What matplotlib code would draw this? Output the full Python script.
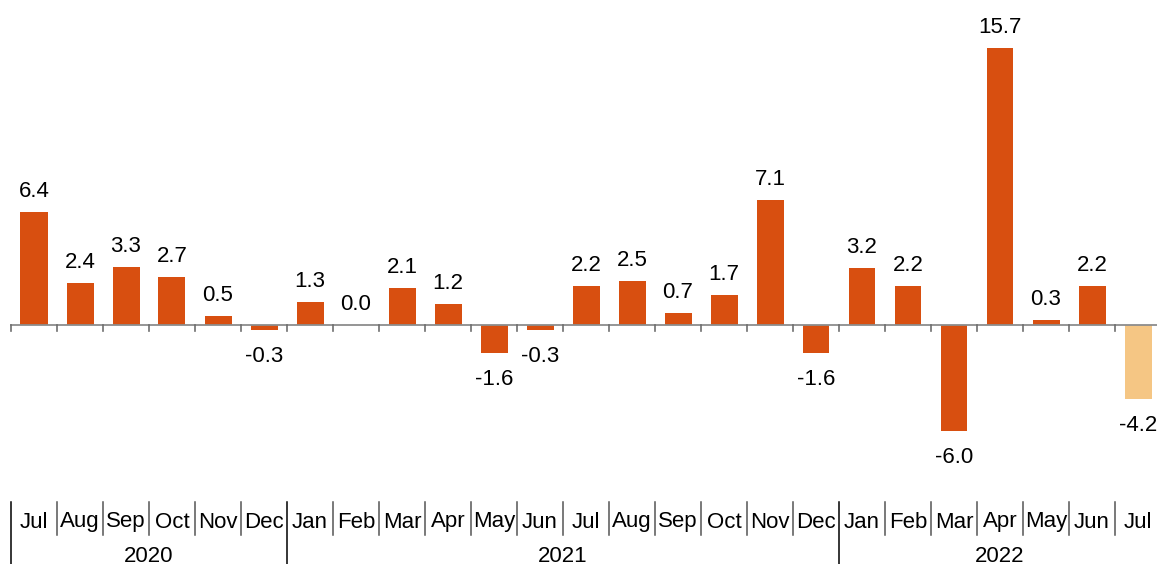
import matplotlib
matplotlib.use("Agg")
import matplotlib.pyplot as plt

plt.rcParams["font.family"] = ["Liberation Sans", "DejaVu Sans"]

MONTHS = ["Jul", "Aug", "Sep", "Oct", "Nov", "Dec",
          "Jan", "Feb", "Mar", "Apr", "May", "Jun", "Jul", "Aug", "Sep", "Oct", "Nov", "Dec",
          "Jan", "Feb", "Mar", "Apr", "May", "Jun", "Jul"]
YEARS = ["2020", "2021", "2022"]
YEAR_COUNTS = [6, 12, 7]
VALUES = [6.4, 2.4, 3.3, 2.7, 0.5, -0.3,
          1.3, 0.0, 2.1, 1.2, -1.6, -0.3, 2.2, 2.5, 0.7, 1.7, 7.1, -1.6,
          3.2, 2.2, -6.0, 15.7, 0.3, 2.2, -4.2]
PRELIM = [False] * 24 + [True]

MAIN = "#d84f10"
LIGHT = "#f5c684"
W, H, DPI = 1157, 564, 100
FS = 16

fig = plt.figure(figsize=(W / DPI, H / DPI), dpi=DPI)
ax = fig.add_axes([0, 0, 1, 1])
ax.axis("off")

# pixel layout: slot width 46 px, first slot edge at x=11, zero line at y=325
slot = 46
x0 = 11
ppu = 17.66  # pixels per unit
zero_px = 325
ax.set_xlim(-(x0 + slot / 2) / slot, (W - x0 - slot / 2) / slot)
ax.set_ylim(-(H - zero_px) / ppu, zero_px / ppu)

n = len(VALUES)
xs = list(range(n))
colors = [LIGHT if p else MAIN for p in PRELIM]
ax.bar(xs, VALUES, width=27 / slot, color=colors, zorder=2)

# zero axis with small ticks at slot edges
ax.axhline(0, color="#8c8c8c", lw=1.3, xmin=x0 / W, xmax=1, zorder=3)
tick = 6 / ppu
for i in range(n + 1):
    ax.plot([i - 0.5, i - 0.5], [0, -tick], color="#6e6e6e", lw=1.2, zorder=3)

# value labels
for x, v in zip(xs, VALUES):
    if v >= 0:
        ax.annotate(f"{v:.1f}", (x, v), xytext=(0, 15 * 72 / DPI),
                    textcoords="offset points", ha="center", va="baseline",
                    fontsize=FS)
    else:
        ax.annotate(f"{v:.1f}", (x, v), xytext=(0, -16 * 72 / DPI),
                    textcoords="offset points", ha="center", va="top",
                    fontsize=FS)

# category axis: months and years
def py(px):
    return (zero_px - px) / ppu

for x, m in zip(xs, MONTHS):
    ax.text(x, py(522), m, ha="center", va="center", fontsize=FS)

year_edges = [0]
for c in YEAR_COUNTS:
    year_edges.append(year_edges[-1] + c)
for i in range(n + 1):
    if i in year_edges:
        ax.plot([i - 0.5, i - 0.5], [py(502), py(H)], color="black", lw=1.1)
    else:
        ax.plot([i - 0.5, i - 0.5], [py(502), py(535)], color="#555555", lw=1.1)

for yr, a, b in zip(YEARS, year_edges[:-1], year_edges[1:]):
    ax.text((a + b - 1) / 2, py(556), yr, ha="center", va="center", fontsize=FS)

fig.savefig("out.png", dpi=DPI)
